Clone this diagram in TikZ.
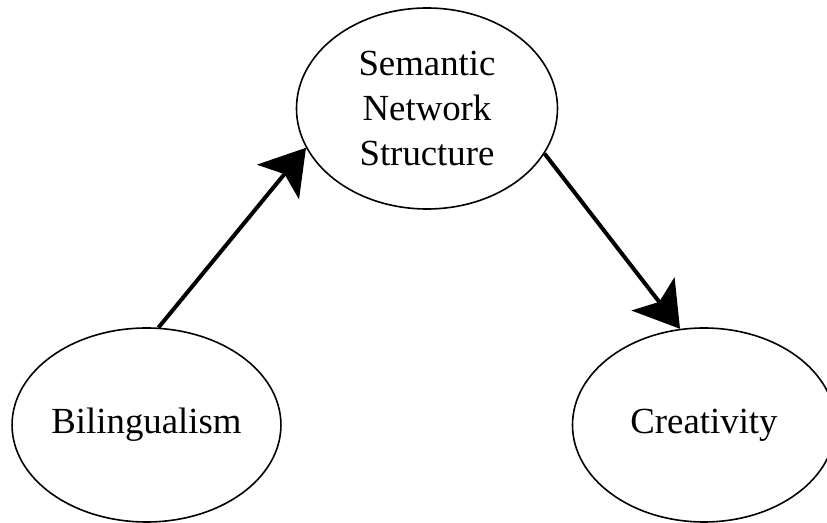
\documentclass[tikz,border=0pt]{standalone}
\usepackage{fontspec}
\setmainfont{Liberation Serif}
\usetikzlibrary{shapes.geometric,arrows.meta}

\begin{document}
\begin{tikzpicture}[
    x=0.5pt, y=-0.5pt,
    concept/.style={ellipse, draw, line width=0.8pt, inner sep=0pt,
      minimum width=131.5pt, minimum height=97pt, align=center,
      font=\fontsize{18.4}{22.5}\selectfont},
    link/.style={line width=2pt, -{Stealth[length=22pt,width=27pt,inset=5pt]}}
    ]
  \useasboundingbox (0,0) rectangle (827,523);
  \node [concept] (bil) at (146.5,425) {Bilingualism};
  \node [concept, minimum width=130.5pt, minimum height=100.5pt] (sem) at (427,108.5) {Semantic\\Network\\Structure};
  \node [concept] (cre) at (704,425) {Creativity};
  % paths
  \draw [link] (bil.83) -- (sem.198);
  \draw [link] (sem.339) -- (cre.104);
\end{tikzpicture}
\end{document}
